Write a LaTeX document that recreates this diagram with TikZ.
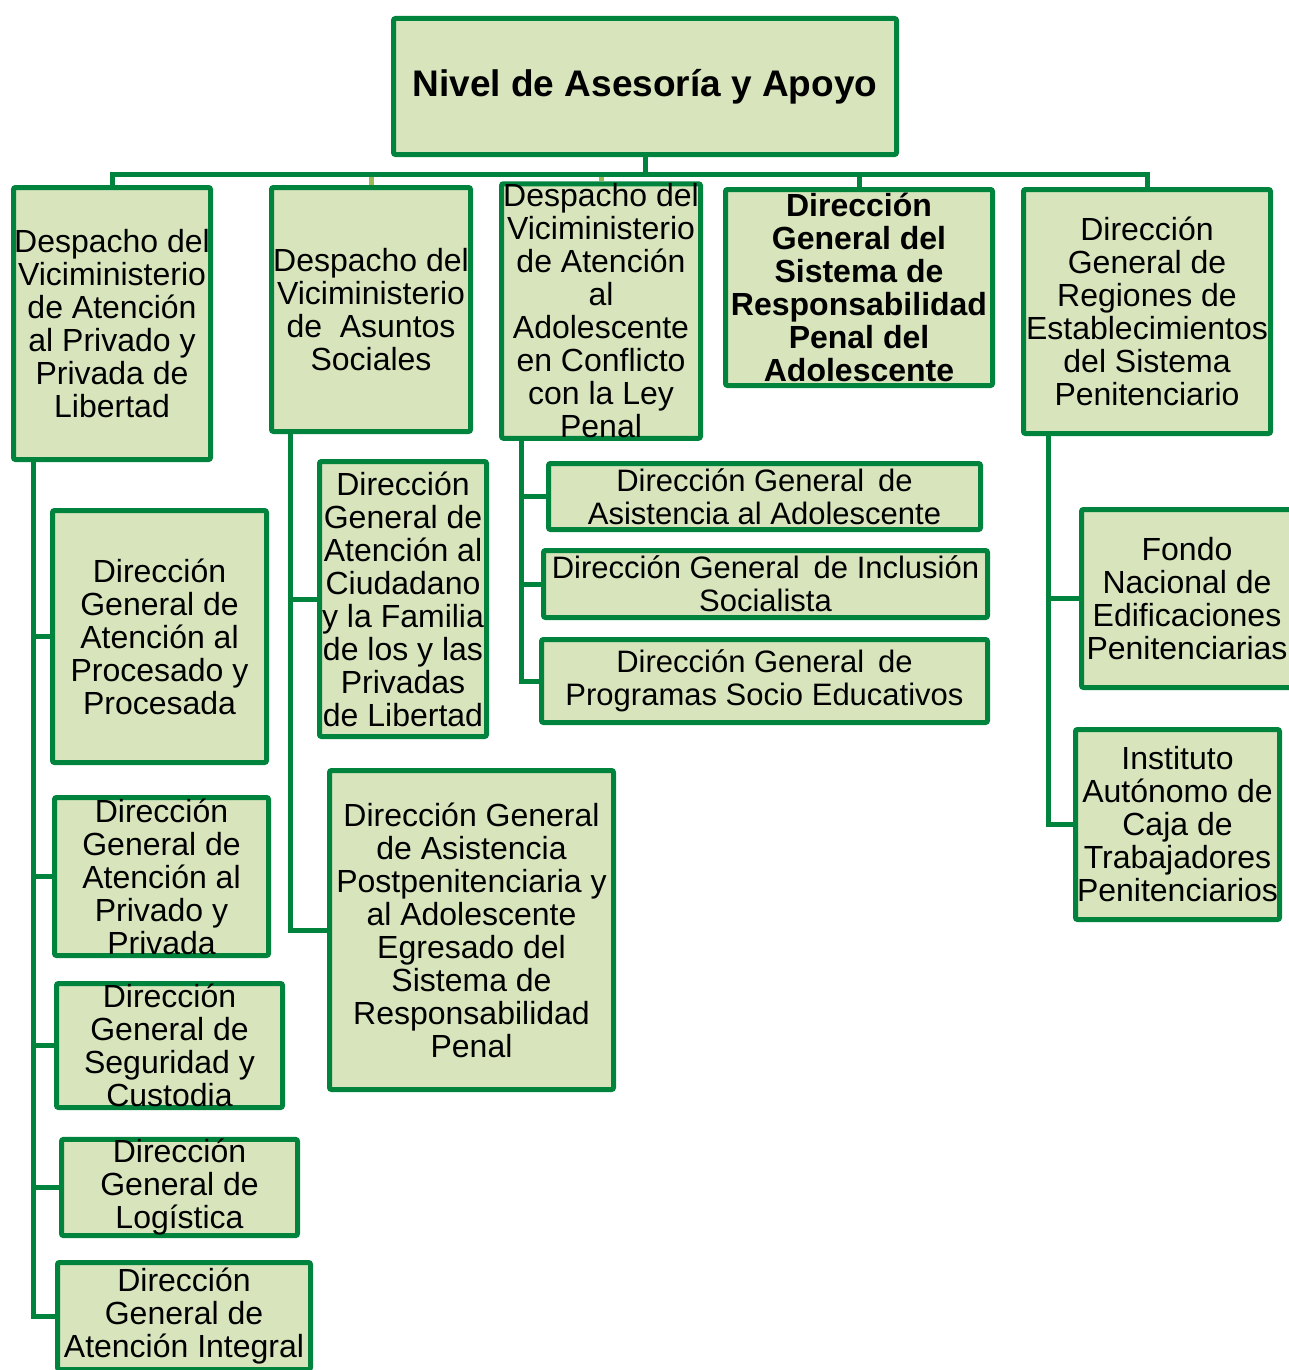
\documentclass[tikz,border=0pt]{standalone}
\usepackage{fontspec}
\setmainfont{Liberation Sans}
\definecolor{orgGreen}{RGB}{0,132,61}
\definecolor{orgFill}{RGB}{216,228,188}
\definecolor{orgStub}{RGB}{155,187,89}

\tikzset{
  unit/.style={draw=orgGreen, fill=orgFill, line width=5pt, rounded corners=2pt,
    inner sep=0pt, align=center, font=\fontsize{32}{33}\selectfont},
  headunit/.style={unit, font=\fontsize{37}{40}\selectfont\bfseries},
  link/.style={draw=orgGreen, line width=5pt},
}

\begin{document}
\begin{tikzpicture}[x=1pt,y=-1pt]
    \useasboundingbox (0,0) rectangle (1289,1370);
    % cabecera
    \node[headunit, minimum width=503pt, minimum height=136pt] (top) at (645,86.5)
      {Nivel de Asesoría y Apoyo};
    % primer nivel
    \node[unit, minimum width=197pt, minimum height=272pt] (a1) at (112,323.5)
      {Despacho del\\Viciministerio\\de Atención\\al Privado y\\Privada de\\Libertad};
    \node[unit, minimum width=199pt, minimum height=244pt] (a2) at (371,309.5)
      {Despacho del\\Viciministerio\\de~~Asuntos\\Sociales};
    \node[unit, minimum width=199pt, minimum height=247pt] (a3) at (601,311)
      {Despacho del\\Viciministerio\\de Atención\\al\\Adolescente\\en Conflicto\\con la Ley\\Penal};
    \node[unit, font=\fontsize{32}{33}\selectfont\bfseries, minimum width=267pt, minimum height=196pt] (a4) at (859,287.5)
      {Dirección\\General del\\Sistema de\\Responsabilidad\\Penal del\\Adolescente};
    \node[unit, minimum width=247pt, minimum height=244pt] (a5) at (1147,311.5)
      {Dirección\\General de\\Regiones de\\Establecimientos\\del Sistema\\Penitenciario};
    % columna 1
    \node[unit, minimum width=214pt, minimum height=252pt] (b1) at (159.5,636.5)
      {Dirección\\General de\\Atención al\\Procesado y\\Procesada};
    \node[unit, minimum width=214pt, minimum height=158pt] (b2) at (161.5,876.5)
      {Dirección\\General de\\Atención al\\Privado y\\Privada};
    \node[unit, minimum width=226pt, minimum height=124pt] (b3) at (169.5,1045.5)
      {Dirección\\General de\\Seguridad y\\Custodia};
    \node[unit, minimum width=236pt, minimum height=92pt] (b4) at (179.5,1187.5)
      {Dirección\\General de\\Logística};
    \node[unit, minimum width=253pt, minimum height=107pt] (b5) at (184,1316)
      {Dirección\\General de\\Atención Integral};
    % columna 2
    \node[unit, minimum width=167pt, minimum height=275pt] (c1) at (403,599)
      {Dirección\\General de\\Atención al\\Ciudadano\\y la Familia\\de los y las\\Privadas\\de Libertad};
    \node[unit, minimum width=284pt, minimum height=319pt] (c2) at (471.5,930)
      {Dirección General\\de Asistencia\\Postpenitenciaria y\\al Adolescente\\Egresado del\\Sistema de\\Responsabilidad\\Penal};
    % columna 3
    \node[unit, font=\fontsize{31}{33}\selectfont, minimum width=432pt, minimum height=66pt] (d1) at (764.5,496.5)
      {Dirección General~\,de\\Asistencia al Adolescente};
    \node[unit, font=\fontsize{31}{33}\selectfont, minimum width=444pt, minimum height=67pt] (d2) at (765.5,584)
      {Dirección General~\,de Inclusión\\Socialista};
    \node[unit, font=\fontsize{31}{33}\selectfont, minimum width=446pt, minimum height=83pt] (d3) at (764.5,681)
      {Dirección General~\,de\\Programas Socio Educativos};
    % columna 5
    \node[unit, minimum width=211pt, minimum height=178pt] (e1) at (1187,598.5)
      {Fondo\\Nacional de\\Edificaciones\\Penitenciarias};
    \node[unit, minimum width=204pt, minimum height=190pt] (e2) at (1177.5,824.5)
      {Instituto\\Autónomo de\\Caja de\\Trabajadores\\Penitenciarios};

    % conectores
    \coordinate (bus) at ([yshift=-17.5pt]top.south);
    \draw[link] (top.south) -- (bus);
    \draw[link] (bus) -| (a1.north);
    \draw[link] (bus) -| (a5.north);
    \draw[link] (bus -| a4.north) -- (a4.north);
    \draw[link, draw=orgStub] ([yshift=-2.5pt]bus -| a2.north) -- (a2.north);
    \draw[link, draw=orgStub] ([yshift=-2.5pt]bus -| a3.north) -- (a3.north);
    \foreach \n in {b1,b2,b3,b4,b5}
      \draw[link] ([xshift=22pt]a1.south west) |- (\n.west);
    \foreach \n in {c1,c2}
      \draw[link] ([xshift=21pt]a2.south west) |- (\n.west);
    \foreach \n in {d1,d2,d3}
      \draw[link] ([xshift=22pt]a3.south west) |- (\n.west);
    \foreach \n in {e1,e2}
      \draw[link] ([xshift=27pt]a5.south west) |- (\n.west);
\end{tikzpicture}
\end{document}
